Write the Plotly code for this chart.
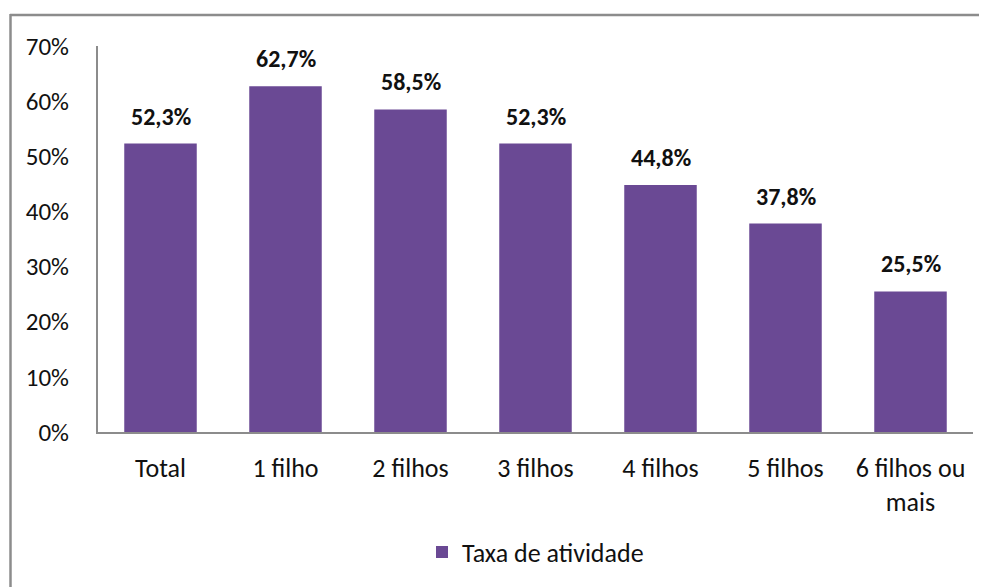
import plotly.graph_objects as go

categories = ["Total", "1 filho", "2 filhos", "3 filhos", "4 filhos", "5 filhos", "6 filhos ou<br>mais"]
values = [52.3, 62.7, 58.5, 52.3, 44.8, 37.8, 25.5]
labels = [f"{v:.1f}%".replace(".", ",") for v in values]
y_ticks = [0, 10, 20, 30, 40, 50, 60, 70]
y_ticktext = [f"{t}%" for t in y_ticks]
series_name = "Taxa de atividade"

OFF = 8  # page body margin offset
W, H = 987, 587
L, T = 98 - OFF, 46 - OFF
pw, ph = 875, 386
R = W - L - pw
B = H - T - ph

def px_x(x):
    return (x - OFF - L) / pw

def px_y(y):
    return (T + ph - (y - OFF)) / ph

FONT = "Carlito, Calibri, Lato, sans-serif"

fig = go.Figure()
fig.add_trace(go.Bar(
    x=categories, y=values, name=series_name,
    marker=dict(color="#6a4994", line=dict(width=0)),
    showlegend=True,
))

for c, v, t in zip(categories, values, labels):
    fig.add_annotation(x=c, y=v, text=f"<b>{t}</b>", showarrow=False,
                       yanchor="bottom", yshift=11,
                       font=dict(family=FONT, size=24, color="#111111"))

# outer frame (top and left only)
fig.add_shape(type="line", xref="paper", yref="paper",
              x0=px_x(10), x1=px_x(W + 8), y0=px_y(15), y1=px_y(15),
              line=dict(color="#8c8c8c", width=2.5))
fig.add_shape(type="line", xref="paper", yref="paper",
              x0=px_x(10.5), x1=px_x(10.5), y0=px_y(14), y1=px_y(H + 8),
              line=dict(color="#8c8c8c", width=2.5))

fig.update_layout(
    width=W, height=H,
    margin=dict(l=L, r=R, t=T, b=B, autoexpand=False),
    paper_bgcolor="white", plot_bgcolor="white",
    bargap=0.42,
    font=dict(family=FONT, size=26, color="#111111"),
    legend=dict(orientation="h", x=0.5, xanchor="center",
                y=px_y(552), yanchor="middle",
                font=dict(family=FONT, size=26, color="#111111"),
                itemwidth=30),
)
fig.update_xaxes(showline=True, linecolor="#8c8c8c", linewidth=2,
                 showgrid=False, ticks="", ticklabelstandoff=12,
                 tickfont=dict(family=FONT, size=26, color="#111111"))
fig.update_yaxes(range=[0, 70], tickvals=y_ticks, ticktext=y_ticktext,
                 showline=True, linecolor="#8c8c8c", linewidth=2,
                 showgrid=False, zeroline=False, ticks="", ticklabelstandoff=22,
                 tickfont=dict(family=FONT, size=25, color="#111111"))

fig.write_html("out.html")
